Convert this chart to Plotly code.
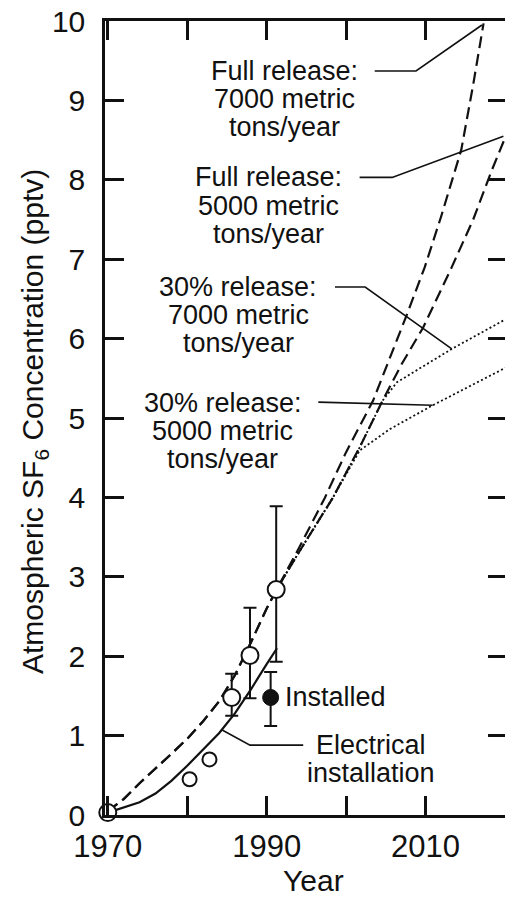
import plotly.graph_objects as go

# ---- data -------------------------------------------------------------
# Measured atmospheric SF6 without uncertainty bars (open circles)
obs_big_year = [1970.0]
obs_big_ppt = [0.03]
obs_small_year = [1980.3, 1982.8]
obs_small_ppt = [0.45, 0.70]

# Measured points with uncertainty ranges
obs_err_year = [1985.6, 1987.9, 1991.2]
obs_err_ppt = [1.48, 2.01, 2.84]
obs_err_hi = [1.78, 2.61, 3.89]
obs_err_lo = [1.25, 1.47, 1.93]

# Estimate from installed equipment (filled circle)
inst_year = [1990.5]
inst_ppt = [1.48]
inst_hi = [1.80]
inst_lo = [1.12]

# Electrical installation curve
elec_year = [1970, 1972, 1974, 1976, 1978, 1980, 1982, 1984, 1986, 1988, 1990, 1991.3]
elec_ppt = [0.03, 0.09, 0.16, 0.27, 0.43, 0.62, 0.82, 1.03, 1.28, 1.58, 1.90, 2.10]

# Common history shared by the full release scenarios
hist_year = [1970, 1972, 1974, 1976, 1978, 1980, 1982, 1984, 1986, 1988, 1990, 1991.3]
hist_ppt = [0.05, 0.20, 0.40, 0.58, 0.77, 0.96, 1.18, 1.43, 1.76, 2.17, 2.60, 2.85]

# Full release scenarios
full7000_year = hist_year + [1994, 1997.3, 2000, 2003.4, 2005.5, 2007.6, 2009.9, 2012, 2014.5, 2016, 2017.3]
full7000_ppt = hist_ppt + [3.35, 3.99, 4.57, 5.22, 5.75, 6.29, 6.90, 7.55, 8.38, 9.20, 9.97]
full5000_year = hist_year + [1994, 1998.3, 2001.7, 2004.6, 2007, 2009.7, 2013.3, 2016, 2018.3, 2020.3]
full5000_ppt = hist_ppt + [3.30, 3.99, 4.63, 5.22, 5.68, 6.14, 6.90, 7.50, 8.11, 8.60]

# 30% release scenarios (projected from the last measurement)
part7000_year = [1991.3, 1994, 1998.3, 2001.7, 2004.6, 2006.4, 2013.3, 2020.2]
part7000_ppt = [2.85, 3.30, 3.99, 4.63, 5.22, 5.45, 5.87, 6.25]
part5000_year = [1991.3, 1994, 1998.3, 2001.7, 2005.5, 2010.9, 2020.2]
part5000_ppt = [2.85, 3.30, 3.99, 4.59, 4.86, 5.16, 5.64]

# Tick labels
x_ticks = [1970, 1980, 1990, 2000, 2010, 2020]
x_labels = ["1970", "", "1990", "", "2010", ""]
y_ticks = list(range(0, 11))
y_labels = [str(v) for v in y_ticks]

# Scenario labels: text lines, first-line centre (year, ppt) and leader polyline
labels = [
    (["Full release:", "7000 metric", "tons/year"], (1992.3, 9.37),
     [(2003.6, 9.37), (2008.8, 9.37), (2017.1, 9.95)]),
    (["Full release:", "5000 metric", "tons/year"], (1990.2, 8.03),
     [(2001.7, 8.03), (2005.8, 8.03), (2019.8, 8.55)]),
    (["30% release:", "7000 metric", "tons/year"], (1986.4, 6.65),
     [(1998.6, 6.65), (2002.4, 6.65), (2013.3, 5.87)]),
    (["30% release:", "5000 metric", "tons/year"], (1984.5, 5.19),
     [(1996.5, 5.20), (2010.9, 5.16)]),
]
elec_label = (["Electrical", "installation"], (2003.1, 0.88),
              [(1984.4, 1.07), (1987.9, 0.88), (1994.6, 0.88)])
inst_label = ("Installed", (1992.1, 1.48))

FONT = "Liberation Sans, Arial, Helvetica, sans-serif"
INK = "#111111"
LABEL_SIZE = 27
LINE_STEP = 0.355  # line spacing of label blocks, in ppt units

fig = go.Figure()

fig.add_trace(go.Scatter(x=elec_year, y=elec_ppt, mode="lines",
                         line=dict(color=INK, width=2.2), hoverinfo="skip"))
for yrs, vals in [(full7000_year, full7000_ppt), (full5000_year, full5000_ppt)]:
    fig.add_trace(go.Scatter(x=yrs, y=vals, mode="lines",
                             line=dict(color=INK, width=2.2, dash="12px,6px"),
                             hoverinfo="skip"))
for yrs, vals in [(part7000_year, part7000_ppt), (part5000_year, part5000_ppt)]:
    fig.add_trace(go.Scatter(x=yrs, y=vals, mode="lines",
                             line=dict(color=INK, width=1.8, dash="2px,2.5px"),
                             hoverinfo="skip"))

# leader lines
for _, _, pts in labels + [elec_label]:
    fig.add_trace(go.Scatter(x=[p[0] for p in pts], y=[p[1] for p in pts],
                             mode="lines", line=dict(color=INK, width=1.6),
                             hoverinfo="skip"))

# observations
open_marker = dict(color="white", line=dict(color=INK, width=2))
fig.add_trace(go.Scatter(
    x=obs_err_year, y=obs_err_ppt, mode="markers",
    marker=dict(size=17, **open_marker),
    error_y=dict(type="data", symmetric=False,
                 array=[h - v for h, v in zip(obs_err_hi, obs_err_ppt)],
                 arrayminus=[v - l for l, v in zip(obs_err_lo, obs_err_ppt)],
                 color=INK, thickness=2, width=6.5),
    hoverinfo="skip"))
fig.add_trace(go.Scatter(x=obs_big_year, y=obs_big_ppt, mode="markers",
                         marker=dict(size=17, **open_marker),
                         cliponaxis=False, hoverinfo="skip"))
fig.add_trace(go.Scatter(x=obs_small_year, y=obs_small_ppt, mode="markers",
                         marker=dict(size=14, **open_marker), hoverinfo="skip"))
fig.add_trace(go.Scatter(
    x=inst_year, y=inst_ppt, mode="markers",
    marker=dict(size=16, color=INK, line=dict(color=INK, width=1)),
    error_y=dict(type="data", symmetric=False,
                 array=[h - v for h, v in zip(inst_hi, inst_ppt)],
                 arrayminus=[v - l for l, v in zip(inst_lo, inst_ppt)],
                 color=INK, thickness=2, width=6.5),
    hoverinfo="skip"))

# right-hand tick marks
fig.add_trace(go.Scatter(x=[None], y=[None], yaxis="y2", showlegend=False))

annotations = []
for lines, (ax, ay), _ in labels + [elec_label]:
    for i, t in enumerate(lines):
        annotations.append(dict(x=ax, y=ay - i * LINE_STEP, xref="x", yref="y",
                                text=t, showarrow=False, xanchor="center",
                                yanchor="middle",
                                font=dict(family=FONT, size=LABEL_SIZE, color=INK)))
annotations.append(dict(x=inst_label[1][0], y=inst_label[1][1], xref="x", yref="y",
                        text=inst_label[0], showarrow=False, xanchor="left",
                        yanchor="middle",
                        font=dict(family=FONT, size=LABEL_SIZE, color=INK)))
annotations.append(dict(x=-0.178, y=0.496, xref="paper", yref="paper",
                        text="Atmospheric SF<sub>6</sub> Concentration (pptv)",
                        textangle=-90, showarrow=False, xanchor="center",
                        yanchor="middle",
                        font=dict(family=FONT, size=30, color=INK)))
annotations.append(dict(x=0.52, y=-0.082, xref="paper", yref="paper",
                        text="Year", showarrow=False, xanchor="center",
                        yanchor="middle",
                        font=dict(family=FONT, size=30, color=INK)))

fig.update_layout(
    width=505, height=899,
    margin=dict(l=105, r=0, t=21, b=84, pad=0),
    paper_bgcolor="white", plot_bgcolor="white",
    showlegend=False,
    annotations=annotations,
    xaxis=dict(range=[1969.65, 2020.0], tickvals=x_ticks, ticktext=x_labels,
               ticks="inside", ticklen=19, tickwidth=2.5, tickcolor=INK,
               showline=True, linewidth=2.5, linecolor=INK, mirror="ticks",
               showgrid=False, zeroline=False, ticklabelstandoff=2,
               tickfont=dict(family=FONT, size=31, color=INK)),
    yaxis=dict(range=[0, 10], tickvals=y_ticks, ticktext=y_labels,
               ticks="inside", ticklen=19, tickwidth=2.5, tickcolor=INK,
               showline=True, linewidth=2.5, linecolor=INK,
               showgrid=False, zeroline=False, ticklabelstandoff=11,
               tickfont=dict(family=FONT, size=30, color=INK)),
    yaxis2=dict(range=[0, 10], overlaying="y", side="right", anchor="x",
                tickvals=y_ticks, ticks="inside", ticklen=17, tickwidth=2.5,
                tickcolor=INK, showticklabels=False, showline=False,
                showgrid=False, zeroline=False),
)

fig.write_html("out.html")
